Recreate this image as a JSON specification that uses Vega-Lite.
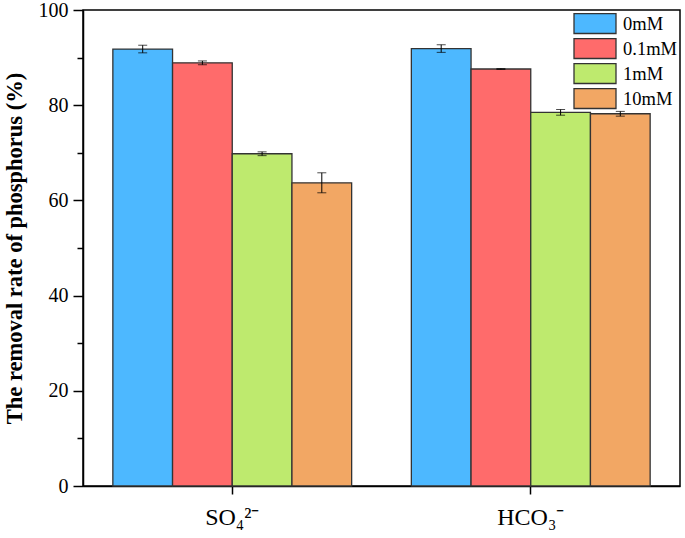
{
  "$schema": "https://vega.github.io/schema/vega-lite/v6.json",
  "width": 597,
  "height": 476,
  "autosize": "none",
  "padding": {"left": 83, "top": 10, "right": 5, "bottom": 52},
  "background": "white",
  "config": {
    "view": {"stroke": "black", "strokeWidth": 1.5},
    "font": "Liberation Serif"
  },
  "data": {
    "values": [
      {"ion": "SO₄²⁻", "conc": "0mM", "value": 91.8, "lo": 91.0, "hi": 92.6},
      {"ion": "SO₄²⁻", "conc": "0.1mM", "value": 88.9, "lo": 88.5, "hi": 89.3},
      {"ion": "SO₄²⁻", "conc": "1mM", "value": 69.8, "lo": 69.4, "hi": 70.2},
      {"ion": "SO₄²⁻", "conc": "10mM", "value": 63.7, "lo": 61.6, "hi": 65.8},
      {"ion": "HCO₃⁻", "conc": "0mM", "value": 91.9, "lo": 91.1, "hi": 92.7},
      {"ion": "HCO₃⁻", "conc": "0.1mM", "value": 87.6, "lo": 87.5, "hi": 87.7},
      {"ion": "HCO₃⁻", "conc": "1mM", "value": 78.5, "lo": 77.9, "hi": 79.1},
      {"ion": "HCO₃⁻", "conc": "10mM", "value": 78.2, "lo": 77.7, "hi": 78.7}
    ]
  },
  "encoding": {
    "x": {
      "field": "ion", "type": "nominal", "sort": null,
      "scale": {"paddingInner": 0.2, "paddingOuter": 0.1},
      "axis": {
        "title": null, "labelAngle": 0, "labelFontSize": 24, "labelColor": "black",
        "labelFont": "Liberation Serif", "labelPadding": 11,
        "tickSize": 8, "tickColor": "black", "tickWidth": 1.5,
        "domainColor": "black", "domainWidth": 1.5
      }
    },
    "xOffset": {
      "field": "conc", "type": "nominal", "sort": ["0mM", "0.1mM", "1mM", "10mM"],
      "scale": {"paddingInner": 0, "paddingOuter": 0}
    }
  },
  "layer": [
    {
      "mark": {"type": "bar", "stroke": "#333333", "strokeWidth": 1.3},
      "encoding": {
        "y": {
          "field": "value", "type": "quantitative",
          "scale": {"domain": [0, 100], "nice": false},
          "axis": {
            "title": "The removal rate of phosphorus (%)",
            "titleFont": "Liberation Serif", "titleFontSize": 22.5, "titleFontWeight": "bold",
            "titleColor": "black", "titlePadding": 12,
            "values": [0, 10, 20, 30, 40, 50, 60, 70, 80, 90, 100],
            "labelExpr": "datum.value % 20 === 0 ? datum.label : ''",
            "labelFontSize": 20, "labelColor": "black", "labelFont": "Liberation Serif",
            "labelPadding": 5,
            "tickSize": {"condition": {"test": "datum.value % 20 === 0", "value": 10}, "value": 6},
            "tickColor": "black", "tickWidth": 1.5,
            "domainColor": "black", "domainWidth": 1.5, "grid": false
          }
        },
        "fill": {
          "field": "conc", "type": "nominal",
          "sort": ["0mM", "0.1mM", "1mM", "10mM"],
          "scale": {
            "domain": ["0mM", "0.1mM", "1mM", "10mM"],
            "range": ["#4DB8FF", "#FF6B6B", "#BEEA6E", "#F2A764"]
          },
          "legend": {
            "title": null, "orient": "none", "legendX": 500.5, "legendY": 2,
            "symbolType": "M-2,-0.95H2V0.95H-2Z", "symbolSize": 441,
            "symbolStrokeColor": "#333333", "symbolStrokeWidth": 1.3, "symbolOpacity": 1,
            "labelFontSize": 18.5, "labelFont": "Liberation Serif", "labelColor": "black",
            "labelOffset": 16.5, "rowPadding": -4
          }
        }
      }
    },
    {
      "mark": {"type": "rule", "color": "black", "strokeWidth": 1},
      "encoding": {
        "y": {"field": "lo", "type": "quantitative"},
        "y2": {"field": "hi"}
      }
    },
    {
      "mark": {"type": "tick", "color": "black", "thickness": 1, "size": 9},
      "encoding": {"y": {"field": "lo", "type": "quantitative"}}
    },
    {
      "mark": {"type": "tick", "color": "black", "thickness": 1, "size": 9},
      "encoding": {"y": {"field": "hi", "type": "quantitative"}}
    }
  ]
}
